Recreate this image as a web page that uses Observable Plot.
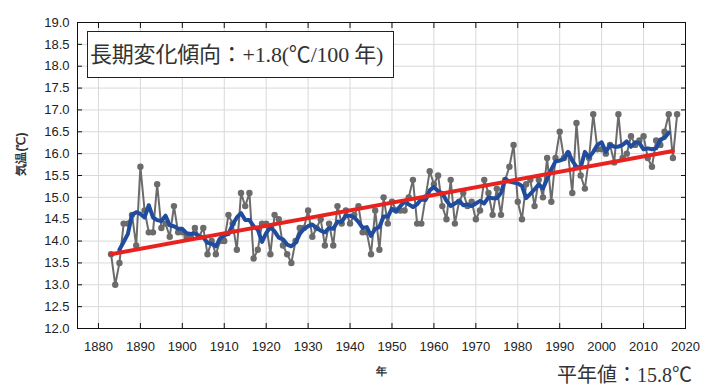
<!DOCTYPE html>
<html>
<head>
<meta charset="utf-8">
<script src="https://cdn.jsdelivr.net/npm/d3@7"></script>
<script src="https://cdn.jsdelivr.net/npm/@observablehq/plot@0.6"></script>
<style>
  html, body { margin: 0; padding: 0; background: #fff; }
  #wrap { position: relative; width: 715px; height: 392px; }
  #trendbox {
    position: absolute; left: 87px; top: 31px; width: 303px; height: 45px;
    border: 1px solid #222; background: #fff; box-sizing: content-box;
    font-family: "Liberation Serif", "Noto Sans CJK JP", serif; font-size: 22px; color: #333;
    line-height: 45px; white-space: nowrap; padding-left: 2px; letter-spacing: -0.2px;
  }
  #normal {
    position: absolute; left: 530px; top: 359px; width: 162px; text-align: right;
    font-family: "Liberation Serif", "Noto Sans CJK JP", serif; font-size: 20px; color: #333;
    white-space: nowrap;
  }
</style>
</head>
<body>
<div id="wrap"></div>
<script>
// Annual mean temperature (°C), 1883–2018
const firstYear = 1883;
const lastYear = 2018;
const temps = [
  13.7, 13.0, 13.5, 14.4, 14.4, 14.6, 13.9,                   // 1883-1889
  15.7, 14.7, 14.2, 14.2, 15.3, 14.3, 14.4, 14.1, 14.8, 14.2, // 1890s
  14.2, 14.1, 14.1, 14.3, 14.1, 14.3, 13.7, 14.0, 13.7, 14.0, // 1900s
  14.0, 14.6, 14.4, 13.8, 15.1, 14.8, 15.1, 13.6, 13.8, 14.4, // 1910s
  14.4, 13.7, 14.6, 14.5, 13.9, 13.7, 13.5, 14.0, 14.3, 14.3, // 1920s
  14.7, 14.1, 14.3, 14.5, 13.9, 14.4, 13.9, 14.8, 14.4, 14.7, // 1930s
  14.4, 14.6, 14.8, 14.2, 14.2, 13.7, 14.7, 13.8, 15.0, 14.4, // 1940s
  14.9, 14.7, 14.7, 14.7, 15.0, 15.4, 14.4, 14.4, 15.0, 15.6, // 1950s
  15.3, 15.5, 14.8, 14.5, 15.4, 14.4, 14.9, 15.1, 14.8, 14.9, // 1960s
  14.5, 14.7, 15.4, 15.1, 14.6, 15.2, 14.6, 15.4, 15.7, 16.2, // 1970s
  14.9, 14.5, 15.3, 15.4, 14.8, 15.4, 15.0, 15.9, 14.9, 15.9, // 1980s
  16.5, 15.9, 16.0, 15.1, 16.7, 15.5, 15.2, 15.9, 16.9, 16.1, // 1990s
  16.1, 16.0, 16.2, 15.8, 16.9, 15.9, 16.0, 16.4, 16.2, 16.3, // 2000s
  16.4, 15.9, 15.7, 16.3, 16.2, 16.5, 16.9, 15.9, 16.9        // 2010-2018
];
// long-term trend line end points
const trendYears = [1883, 2017];
const trendValues = [13.70, 16.06];

const xTicks = [1880, 1890, 1900, 1910, 1920, 1930, 1940, 1950, 1960, 1970, 1980, 1990, 2000, 2010, 2020];
const yTicks = [12.0, 12.5, 13.0, 13.5, 14.0, 14.5, 15.0, 15.5, 16.0, 16.5, 17.0, 17.5, 18.0, 18.5, 19.0];

const yLabel = "気温(℃)";
const xLabel = "年";
const trendText = "長期変化傾向：+1.8(℃/100 年)";
const normalText = "平年値：15.8℃";

const years = d3.range(firstYear, lastYear + 1);
const data = years.map((y, i) => ({year: y, t: temps[i]}));
const trend = trendYears.map((y, i) => ({year: y, t: trendValues[i]}));

const chart = Plot.plot({
  width: 715,
  height: 392,
  marginLeft: 77,
  marginRight: 30,
  marginTop: 22,
  marginBottom: 64,
  style: {fontFamily: "'Liberation Sans', Arial, sans-serif", fontSize: "13px", color: "#222", background: "#fff"},
  x: {domain: [1875, 2020]},
  y: {domain: [12, 19]},
  marks: [
    Plot.gridX(xTicks, {stroke: "#d9d9d9", strokeOpacity: 1, strokeWidth: 1}),
    Plot.gridY(yTicks, {stroke: "#d9d9d9", strokeOpacity: 1, strokeWidth: 1}),
    Plot.axisX(xTicks, {anchor: "bottom", tickSize: -5, tickPadding: 18, label: null, tickFormat: d => `${d}`, stroke: "#111"}),
    Plot.axisX(xTicks, {anchor: "top", tickSize: -5, label: null, tickFormat: () => "", stroke: "#111"}),
    Plot.axisY(yTicks, {anchor: "left", tickSize: -5, tickPadding: 13, label: null, tickFormat: d3.format(".1f"), stroke: "#111"}),
    Plot.axisY(yTicks, {anchor: "right", tickSize: -5, label: null, tickFormat: () => "", stroke: "#111"}),
    Plot.lineY(data, {x: "year", y: "t", stroke: "#6b6b6b", strokeWidth: 2}),
    Plot.dot(data, {x: "year", y: "t", r: 3.2, fill: "#6b6b6b", stroke: "none"}),
    Plot.lineY(data, Plot.windowY({k: 5, anchor: "middle", strict: true}, {x: "year", y: "t", stroke: "#1f4c9e", strokeWidth: 4})),
    Plot.line(trend, {x: "year", y: "t", stroke: "#e8221f", strokeWidth: 4}),
    Plot.frame({stroke: "#111", strokeWidth: 1}),
    Plot.text([xLabel], {text: d => d, frameAnchor: "bottom", dy: 46, fontSize: 11, fontWeight: "bold", fill: "#333"}),
    Plot.text([yLabel], {text: d => d, frameAnchor: "left", dx: -56, rotate: -90, fontSize: 12, fontWeight: "bold", fill: "#333"})
  ]
});

const wrap = document.getElementById("wrap");
wrap.appendChild(chart);
const box = document.createElement("div");
box.id = "trendbox";
box.textContent = trendText;
wrap.appendChild(box);
const normal = document.createElement("div");
normal.id = "normal";
normal.textContent = normalText;
wrap.appendChild(normal);
</script>
</body>
</html>
